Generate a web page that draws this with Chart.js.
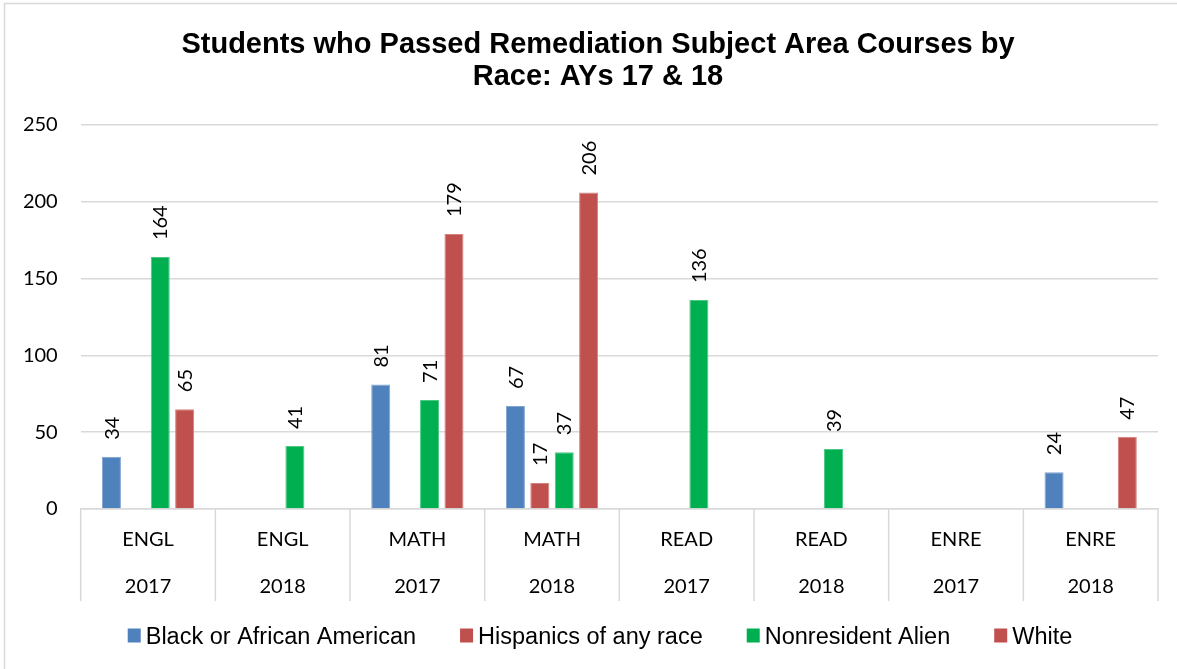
<!DOCTYPE html>
<html><head><meta charset="utf-8">
<script src="https://cdn.jsdelivr.net/npm/chart.js@4"></script>
<style>
html,body{margin:0;padding:0;background:#fff;}
#wrap{width:1177px;height:669px;overflow:hidden;position:relative;background:#fff;}
canvas{display:block;}
</style></head><body>
<div id="wrap"><canvas id="c" width="1196" height="669"></canvas></div>
<script>
const subjects = ['ENGL','ENGL','MATH','MATH','READ','READ','ENRE','ENRE'];
const years = ['2017','2018','2017','2018','2017','2018','2017','2018'];
const seriesNames = ['Black or African American','Hispanics of any race','Nonresident Alien','White'];
const seriesColors = ['#4F81BD','#C0504D','#00B050','#C0504D'];
const seriesBorders = ['#7FA3D0','#D3817F','#4CC884','#D3817F'];
const black = [34,null,81,67,null,null,null,24];
const hispanic = [null,null,null,17,null,null,null,null];
const nonresident = [164,41,71,37,136,39,null,null];
const white = [65,null,179,206,null,null,null,47];
const yTicks = [0,50,100,150,200,250];
const titleLines = ['Students who Passed Remediation Subject Area Courses by','Race: AYs 17 & 18'];

const seriesValues = [black, hispanic, nonresident, white];
const labels = subjects.map((s,i)=>[s, years[i]]);
const AXIS_FONT = 'Lato, "Open Sans", sans-serif';
const ARIAL = '"Liberation Sans", Arial, sans-serif';

const frame = {
  id:'frame',
  beforeDraw(chart){
    const ctx = chart.ctx;
    ctx.save();
    ctx.fillStyle='#fff';
    ctx.fillRect(0,0,chart.width,chart.height);
    ctx.strokeStyle='#D9D9D9';
    ctx.lineWidth=1.5;
    ctx.beginPath();
    ctx.moveTo(4.5,chart.height); ctx.lineTo(4.5,3.5); ctx.lineTo(chart.width,3.5);
    ctx.stroke();
    ctx.restore();
  }
};

const separators = {
  id:'separators',
  afterDraw(chart){
    const xs = chart.scales.x, ctx = chart.ctx;
    const n = labels.length, w = xs.width / n;
    const top = chart.chartArea.bottom, bottom = top + 92;
    ctx.save();
    ctx.strokeStyle='#D9D9D9';
    ctx.lineWidth=1.5;
    ctx.beginPath();
    for(let i=0;i<=n;i++){
      const x = xs.left + i*w;
      ctx.moveTo(x, top); ctx.lineTo(x, bottom);
    }
    ctx.stroke();
    ctx.restore();
  }
};

const dataLabels = {
  id:'dataLabels',
  afterDatasetsDraw(chart){
    const ctx = chart.ctx;
    const size = 20;
    ctx.save();
    ctx.font = size + 'px ' + AXIS_FONT;
    ctx.fillStyle = '#000';
    ctx.textAlign = 'left';
    ctx.textBaseline = 'alphabetic';
    chart.data.datasets.forEach((ds, di)=>{
      const meta = chart.getDatasetMeta(di);
      meta.data.forEach((el, i)=>{
        const v = ds.data[i];
        if (v === null || v === undefined) return;
        ctx.save();
        ctx.translate(el.x, el.y - 17);
        ctx.rotate(-Math.PI/2);
        ctx.fillText(String(v), 0, size*0.36);
        ctx.restore();
      });
    });
    ctx.restore();
  }
};

const customLegend = {
  id:'customLegend',
  afterDraw(chart){
    const ctx = chart.ctx;
    const size = 23.5, box = 13, gapText = 5, gapItem = 44;
    ctx.save();
    ctx.font = size + 'px ' + ARIAL;
    const widths = seriesNames.map(t=>ctx.measureText(t).width);
    let total = 0;
    widths.forEach((w,i)=>{ total += box + gapText + w + (i<widths.length-1?gapItem:0); });
    const cy = 635.5;
    let x = chart.width/2 + 2 - total/2;
    seriesNames.forEach((t,i)=>{
      ctx.fillStyle = seriesColors[i];
      ctx.fillRect(x, cy - 7, box, 14);
      ctx.fillStyle = '#000';
      ctx.textBaseline = 'alphabetic';
      ctx.textAlign = 'left';
      ctx.fillText(t, x + box + gapText, cy + size*0.358);
      x += box + gapText + widths[i] + gapItem;
    });
    ctx.restore();
  }
};

new Chart(document.getElementById('c'), {
  type:'bar',
  data:{
    labels: labels,
    datasets: seriesNames.map((name,i)=>({
      label: name,
      data: seriesValues[i],
      backgroundColor: seriesColors[i],
      borderColor: seriesBorders[i],
      borderWidth: 1,
      categoryPercentage: 0.725,
      barPercentage: 0.78
    }))
  },
  options:{
    responsive:false,
    animation:false,
    layout:{padding:{top:0,left:0,right:0,bottom:59}},
    plugins:{
      legend:{display:false},
      tooltip:{enabled:false},
      title:{
        display:true,
        text:titleLines,
        color:'#000',
        font:{family:ARIAL,size:29,weight:'bold',lineHeight:1.103},
        padding:{top:29,bottom:32}
      }
    },
    scales:{
      x:{
        grid:{display:false},
        border:{display:true,color:'#D9D9D9',width:1.5},
        ticks:{
          color:'#000',
          font:{family:AXIS_FONT,size:20,lineHeight:2.35},
          padding:-0.5,
          maxRotation:0,
          autoSkip:false
        }
      },
      y:{
        min:0,max:250,
        afterBuildTicks(scale){ scale.ticks = yTicks.map(v=>({value:v})); },
        afterFit(scale){ scale.width = 80.7; },
        grid:{color:'#D9D9D9',lineWidth:1.5,drawTicks:false},
        border:{display:false},
        ticks:{color:'#000',font:{family:AXIS_FONT,size:20},padding:23}
      },
      yPad:{
        position:'right',
        display:true,
        afterFit(scale){ scale.width = 38; },
        grid:{display:false,drawTicks:false},
        border:{display:false},
        ticks:{display:false}
      }
    }
  },
  plugins:[frame, separators, dataLabels, customLegend]
});
</script>
</body></html>
